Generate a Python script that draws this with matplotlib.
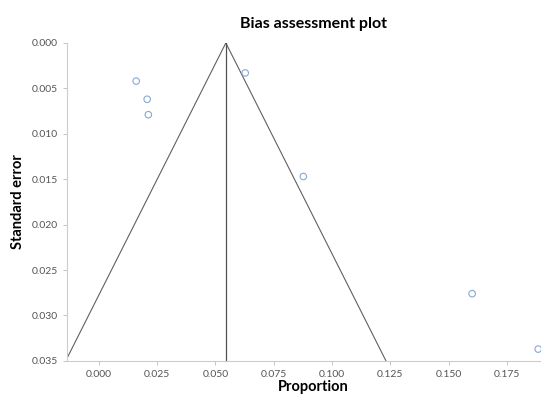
import numpy as np
import matplotlib
matplotlib.use("Agg")
import matplotlib.pyplot as plt

plt.rcParams['font.family'] = ['Lato', 'DejaVu Sans']

# study estimates (proportion) and their standard errors
proportion = [0.0161, 0.0208, 0.0213, 0.0628, 0.0877, 0.1600, 0.1883]
std_error = [0.0042, 0.0062, 0.0079, 0.0033, 0.0147, 0.0276, 0.0337]

pooled = 0.0545
se_max = 0.035
x_ticks = [0.000, 0.025, 0.050, 0.075, 0.100, 0.125, 0.150, 0.175]
y_ticks = [0.000, 0.005, 0.010, 0.015, 0.020, 0.025, 0.030, 0.035]

fig = plt.figure(figsize=(5.41, 3.94), dpi=100)
ax = fig.add_axes([0.124, 0.084, 0.876, 0.807])

se_line = np.array([0.0, se_max])
ax.plot(pooled - 1.96 * se_line, se_line, color='#606060', lw=0.8)
ax.plot(pooled + 1.96 * se_line, se_line, color='#606060', lw=0.8)
ax.plot([pooled, pooled], [0, se_max], color='#505050', lw=0.9)

ax.scatter(proportion, std_error, s=22, facecolors='none',
           edgecolors='#86a9d4', linewidths=0.8, clip_on=False, zorder=3)

ax.set_xlim(-0.0135, 0.1895)
ax.set_ylim(se_max, 0)
ax.set_xticks(x_ticks)
ax.set_yticks(y_ticks)
ax.xaxis.set_major_formatter(matplotlib.ticker.FormatStrFormatter('%.3f'))
ax.yaxis.set_major_formatter(matplotlib.ticker.FormatStrFormatter('%.3f'))
ax.tick_params(labelsize=7.5, colors='#555555', length=3, width=0.6)
ax.tick_params(axis='both', color='#bbbbbb')

for s in ['top', 'right']:
    ax.spines[s].set_visible(False)
for s in ['left', 'bottom']:
    ax.spines[s].set_color('#cccccc')
    ax.spines[s].set_linewidth(0.8)

ax.set_title('Bias assessment plot', fontsize=11.5, fontweight='bold', pad=11, x=0.52)
ax.set_xlabel('Proportion', fontsize=10.5, fontweight='bold', labelpad=1, x=0.52)
ax.set_ylabel('Standard error', fontsize=10.5, fontweight='bold', labelpad=5)

fig.savefig('out.png', dpi=100)
